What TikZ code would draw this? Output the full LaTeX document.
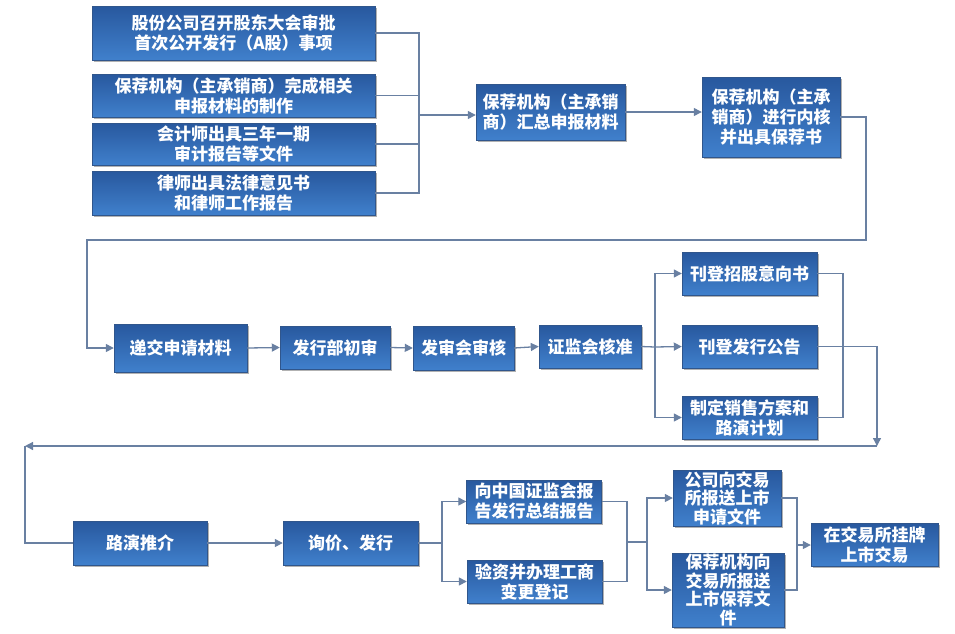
\documentclass[tikz,border=0pt]{standalone}
\usepackage{fontspec}
\newfontfamily\cjk{Noto Sans CJK SC}
\usepackage{xcolor}
\usetikzlibrary{arrows.meta,shadows,positioning}

\definecolor{boxtop}{RGB}{40,88,158}
\definecolor{boxbot}{RGB}{64,128,204}
\definecolor{boxline}{RGB}{48,86,140}
\definecolor{linkcol}{RGB}{105,128,162}

\tikzset{
    stepbox/.style={rectangle, top color=boxtop, bottom color=boxbot, draw=boxline,
        line width=0.4pt, text=white, align=center, inner sep=0pt,
        font=\cjk\bfseries\fontsize{17}{20}\selectfont,
        drop shadow={shadow xshift=1.5pt, shadow yshift=-2pt, fill=black, opacity=0.3}},
    link/.style={draw=linkcol, line width=1.3pt},
    flow/.style={link, -{Triangle[width=8pt,length=8pt]}},
}

\begin{document}
\begin{tikzpicture}[x=1pt, y=-1pt]
\useasboundingbox (0,0) rectangle (955,633);

% first row
\node[stepbox, minimum width=283, minimum height=54] (dahui) at (233.5,33) {股份公司召开股东大会审批\\首次公开发行（A股）事项};
\node[stepbox, minimum width=283, minimum height=43] (zhizuo) at (233.5,95.5) {保荐机构（主承销商）完成相关\\申报材料的制作};
\node[stepbox, minimum width=283, minimum height=42] (shenji) at (233.5,144) {会计师出具三年一期\\审计报告等文件};
\node[stepbox, minimum width=283, minimum height=44] (falv) at (233.5,193) {律师出具法律意见书\\和律师工作报告};
\node[stepbox, minimum width=149, minimum height=56] (huizong) at (550.5,112) {保荐机构（主承销\\商）汇总申报材料};
\node[stepbox, minimum width=138, minimum height=80] (neihe) at (771,117) {保荐机构（主承\\销商）进行内核\\并出具保荐书};

% second row
\node[stepbox, minimum width=133, minimum height=48] (dijiao) at (180.5,348) {递交申请材料};
\node[stepbox, minimum width=110, minimum height=43] (chushen) at (335,347.5) {发行部初审};
\node[stepbox, minimum width=101, minimum height=44] (fashen) at (463.5,348) {发审会审核};
\node[stepbox, minimum width=102, minimum height=43] (hezhun) at (590,346.5) {证监会核准};
\node[stepbox, minimum width=135, minimum height=43] (yixiang) at (749.5,273.5) {刊登招股意向书};
\node[stepbox, minimum width=135, minimum height=43] (gonggao) at (749.5,346.5) {刊登发行公告};
\node[stepbox, minimum width=135, minimum height=43] (fangan) at (749.5,417.5) {制定销售方案和\\路演计划};

% third row
\node[stepbox, minimum width=134, minimum height=44] (luyan) at (140,543) {路演推介};
\node[stepbox, minimum width=135, minimum height=44] (xunjia) at (350.5,543) {询价、发行};
\node[stepbox, minimum width=135, minimum height=43] (zongjie) at (534,501.5) {向中国证监会报\\告发行总结报告};
\node[stepbox, minimum width=135, minimum height=43] (yanzi) at (534.5,581.5) {验资并办理工商\\变更登记};
\node[stepbox, minimum width=108, minimum height=56, font=\cjk\bfseries\fontsize{17}{18.5}\selectfont] (shenqing) at (727,498) {公司向交易\\所报送上市\\申请文件};
\node[stepbox, minimum width=112, minimum height=74, font=\cjk\bfseries\fontsize{17}{18.5}\selectfont] (baojianwj) at (728,590) {保荐机构向\\交易所报送\\上市保荐文\\件};
\node[stepbox, minimum width=127, minimum height=43] (guapai) at (874.5,544.5) {在交易所挂牌\\上市交易};

% joins and turns
\coordinate (hui1) at (419,115);
\coordinate (zhuanR1) at (866,240);
\coordinate (zhuanL1) at (87,240);
\coordinate (fen1) at (655,347);
\coordinate (hui2) at (843,345);
\coordinate (zhuanR2) at (877,446);
\coordinate (zhuanL2) at (25,446);
\coordinate (fen2) at (442,543);
\coordinate (hui3) at (627,542);
\coordinate (fen3) at (647,542);
\coordinate (hui4) at (797,545);

% connectors
\draw[link] (dahui.east) -| (hui1);
\draw[link] (falv.east) -| (hui1);
\draw[link] (zhizuo.east) -- (zhizuo.east -| hui1);
\draw[link] (shenji.east) -- (shenji.east -| hui1);
\draw[flow] (hui1) -- (hui1 -| huizong.west);
\draw[flow] (huizong.east) -- (huizong.east -| neihe.west);
\draw[flow] (neihe.east) -| (zhuanR1) -- (zhuanL1) |- (dijiao.west);

\draw[flow] (dijiao.east) -- (chushen.west);
\draw[flow] (chushen.east) -- (fashen.west);
\draw[flow] (fashen.east) -- (hezhun.west);
\draw[link] (hezhun.east) -- (fen1);
\draw[flow] (fen1) |- (yixiang.west);
\draw[flow] (fen1) -- (gonggao.west);
\draw[flow] (fen1) |- (fangan.west);
\draw[link] (yixiang.east) -| (hui2) |- (fangan.east);
\draw[flow] (gonggao.east) -| (zhuanR2);
\draw[flow] (zhuanR2) -- (zhuanL2);
\draw[link] (luyan.west) -| (zhuanL2);

\draw[flow] (luyan.east) -- (xunjia.west);
\draw[link] (xunjia.east) -- (fen2);
\draw[flow] (fen2) |- (zongjie.west);
\draw[flow] (fen2) |- (yanzi.west);
\draw[link] (zongjie.east) -| (hui3);
\draw[link] (yanzi.east) -| (hui3);
\draw[link] (hui3) -- (fen3);
\draw[flow] (fen3) |- (shenqing.west);
\draw[flow] (fen3) |- (baojianwj.west);
\draw[link] (shenqing.east) -| (hui4);
\draw[link] (baojianwj.east) -| (hui4);
\draw[flow] (hui4) -- (hui4 -| guapai.west);
\end{tikzpicture}
\end{document}
